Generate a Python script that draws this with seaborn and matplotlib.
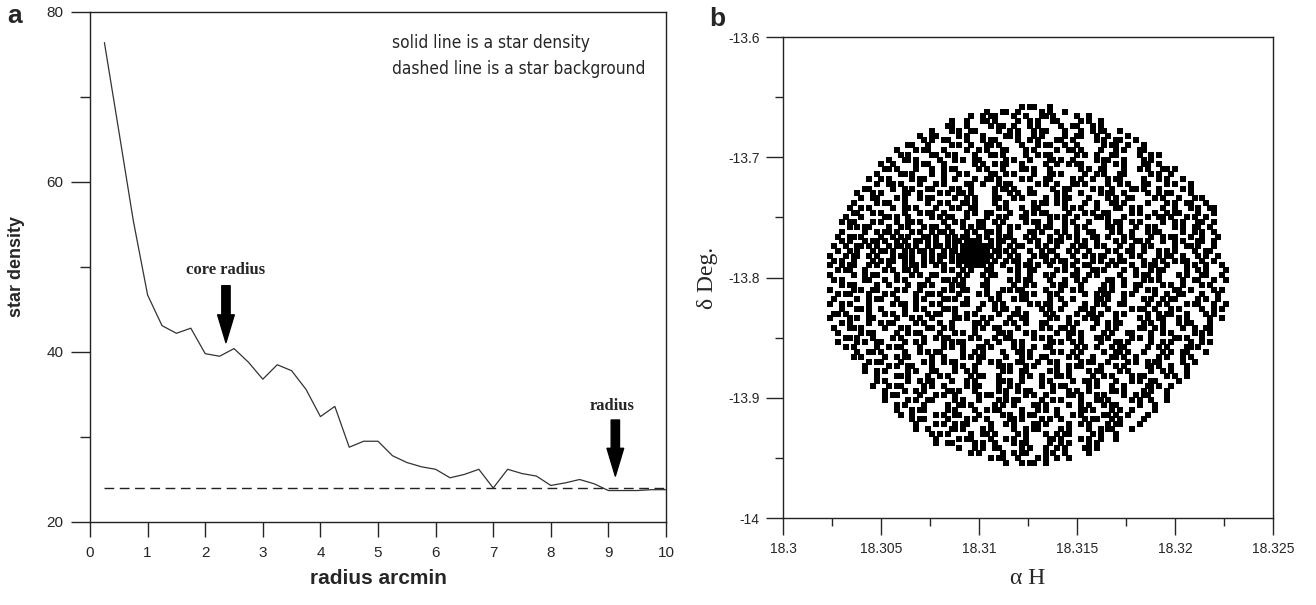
import numpy as np
import matplotlib
matplotlib.use("Agg")
import matplotlib.pyplot as plt
import seaborn as sns

# ---- panel a: radial density profile ----
radius = [0.25, 0.5, 0.75, 1.0, 1.25, 1.5, 1.75, 2.0, 2.25, 2.5,
          2.75, 3.0, 3.25, 3.5, 3.75, 4.0, 4.25, 4.5, 4.75, 5.0,
          5.25, 5.5, 5.75, 6.0, 6.25, 6.5, 6.75, 7.0, 7.25, 7.5,
          7.75, 8.0, 8.25, 8.5, 8.75, 9.0, 9.25, 9.5, 9.75, 10.0]
density = [76.4, 66.0, 55.5, 46.7, 43.1, 42.2, 42.8, 39.8, 39.5, 40.4,
           38.8, 36.8, 38.5, 37.8, 35.6, 32.4, 33.6, 28.8, 29.5, 29.5,
           27.8, 27.0, 26.5, 26.2, 25.2, 25.6, 26.2, 24.0, 26.2, 25.7,
           25.4, 24.3, 24.6, 25.0, 24.5, 23.7, 23.7, 23.7, 23.8, 23.8]
background_x = [0.25, 10.0]
background_y = [24.0, 24.0]
core_radius = 2.36
limit_radius = 9.12

# ---- panel b: star field, read off the chart as a raster ----
# each '#' is a star; column -> RA step, row -> Dec step
RA0, DRA = 18.3022, 0.0002
DEC0, DDEC = -13.658, -0.004
row_start = [48, 41, 36, 32, 29, 26, 24, 22, 20, 18, 17, 15, 14, 13, 12, 11, 10, 9, 8, 7,
             6, 6, 5, 4, 4, 3, 3, 3, 2, 2, 2, 1, 1, 1,
             1, 1, 1, 1, 1, 1, 1, 1, 1, 1, 1,
             2, 2, 2, 3, 3, 4, 5, 7, 9, 9, 10, 11, 12, 12, 13, 14, 15, 16, 17, 19,
             20, 22, 23, 25, 27, 28, 32, 36, 40, 46]
row_cells = [
    "..#.##...#..",
    "#...##..#.....#.#...#",
    ".#..#.##....#..#...##.#.....#..#",
    "#...#...##.#.....#..#.#...##.....#.#..#",
    "..##...#.....#.##..#...#.#.....#..##...#.#....",
    ".#....#.#..##.....#..#.#...#.##....#...#..#.##...#",
    "#..##.....#.#...#.....##.#...#.#.....#..##...#..#....#.",
    "...#.#..##....#...#.##.....#..#.#....##..#.....#.#..##...#.",
    ".##...#.....#.#..#...##.#.....#...#.##...#..#......#.##..#...#",
    "#....#.##...#.....#..#.#...##....#.#.....#..##.#....#...#.#...##.",
    "..#.#.....##..#.#....#...##.#.....#..#.##......#.#..#...##.....#..#.#",
    ".#...##.#.....#...#.#..##......#.#...#....##.#..#.....#.##...#....#.#...",
    "#..#.....#.##...#.......#.#..#.##...#.....#..#..#.##.....#..#.#....##..#...",
    "..##.#....#...#..#.##.....#.#...#....##.#...#.......#.#..##....#...#.#...##.#.",
    ".#.....##.#....#..#...#.#.....##..#.#....#...##.#.....#..#.#...##......#.#..#...",
    "#..#.#.....#.##....#..#....#..##.#.....#.#...##.....#.#..#...#.##.....#...#.#...#..",
    "...#..##.#....#...#.#.....##..#...#.##......#.#..#...##.#.....#..#.#...##....#.#...#",
    ".##.....#..#.#...##....#.#..#.....#.##.#...#.....#..##.....#.#..#....##.#...#.....#.#",
    "#...#.#.....##..#....#.#..##.#.....#...#.#..##.....#.#...#....#.##..#.....#..#.##....#..",
    "..#..##....#.#...#.##.....#..#.#....##...#.#.....#..#.##....#....#.#..##.....#.#...#...#.#",
    ".#.....#.##...#.....#..#.#...##.#....#..#......#.##..#.#....#..#...##.#.....#....#.#..##...#",
    "#..#.#.....#..##.#....#...#.#..##.....#.#...#..##......#.#.#...#....##..#.#.....#..#...#.#..##",
    "..##...#.#.....#...#.##..#.....#.#..##....#...#.#.##.....#...#.#..##.....#.#...#..#.##....#...#",
    ".#...#.....##.#..#.....#.#.##...#....#..#.#...##.....#.#.#..#....##.#...#.....#..##.#...#.#..#..",
    "#.##....#.#...#..##.#.....#..#.#...##..#.#.....#.##..#...#.#...#....#.##..#.#.....#..#.#...##..#",
    "...#.#.##....#..#.#...#.##..#...#.#.##...#..#.#....#.##...#..#.#.....##.#...#..#.#....#.#..##..#.",
    ".#.....#..#.##.#...#.#..#.##.#...#.#..##.#..#....##.#...#.#..#..##....#.#..#...#.##.....#..#.#..#.",
    "#..##.#....#..#.#.#...##.#..#.#.##..#.#..#.##...#.#...#..#.#.#...##..#...#.#....#..#.##...#..#...#",
    "..#.#...#.##.#..#.#..##.#.#..#.##.#" + "###" + "..#.##..#...#.#..#.##...#.#..#....#.#..##.#...#..#.#...##..#..",
    "#..#..##.#.#..#.##.#.#..#.##.#.#.#" + "#####" + "##.#..#.##...#.#..#...#.##..#.#...#..#..#.#.....#..##.#...#.",
    ".#..#.#...#.##.#..#.#.##.#..#.##.#" + "#####" + "#.##.#.#...#..#.##...#.#..#....#.#..##..#...#.#.#....#..##..",
    "#...#.##..#.#...#.##.#..#.#.##.#.##" + "#####" + "##.#..#.#...#.##..#...#..#.#.##...#..#.#....#.##..#...#.#..#.",
    ".#.#..#....#.#.##..#.#..#.#.#..#.##" + "#####" + "#.#..#.##..#...#.#.##..#...#.#..#.##....#..#.#..#.##...#..#..",
    "#..#.##...#.#..#...#.##.#..#.#...#.#" + "###" + "#.#..#...#.##.#..#...#.#..##....#.#...#..#.##..#....#.#..#...#",
    "..#.##...#....#.#..##.#......#.#..#.#...##....#.#..##.....#.#..#...##.#....#..#...#.##.....#..#.#....#..",
    "#.....#..#.##....#...#.#..##....." + "#.#...#.##" + ".....#..#...#.#....##..#.#.....#...#.##..#....#.#...##...#.",
    ".#.#.....##...#..#.#.....#...##.#" + ".#.....#" + ".....#.#.##....#...#..#.#.....##..#....#.#.#.....#..##...#..#",
    "...#.##.....#..#....#..##.#....#." + "##....##" + "......#..#.#....#.##...#.....#.#..#..##.....#.#..#....#.#....",
    "#.....#.#..##....#.#...#.....#.#..##....#...#.#.##.....#...#..#.#....##.#.....#..#.#....##..#.....#.#.",
    "..#.##....#...#.#.....#..##.#....#....#.#..#.....##.#...#.#......#..#.##...#.#.....#..#..##....#...#..",
    ".#.....#..#.##...#....#.#....##.#..#.....#.#...#.##.....#..#..#.....##.#...#....#.#..#.##.....#.#..#..",
    "#..#.#....#.....#.##..#...#.#.....##...#..#.#......#.#.##...#....#..#.#...##.....#..#.#....#.##...#..#",
    "...#...##.#..#.....#..#.#....##.#.....#...#.##..#.....#.#..#....##.#...#.....#.##..#...#.#.....#..#.#.",
    ".##.#.....#...#.#..#.....#.##...#..#.#.....#...##.#....#.#.....#..##.#...#.#.....#..#.##...#....#.#...",
    "#....#.#..##.....#...#.#..#.....##.#...#.#....#..##.....#.#..#...#.##....#.....#.#..##...#.#.....#..#",
    "..#.#....#..#.##.....#.#...#..#.....##.#....#.#..#...##.....#.#....#..#.##.....#.#..#...#.##....#.",
    "#...##.#.....#...#.#....##..#.#.....#.#..##....#.....#.#..##.#....#...#.#.....##..#.#....#..#..##..",
    ".#.....#.##.....#..#.##....#...#.#..#.....##.#...#.#.....#..##.#.....#.#...##....#..#.#.....#.#.#",
    "..##.#...#....#.#.....#..#.##.....#.#...#..##.....#.#.#....#..#...##.#.....#.#..#.....##.#...#..",
    "#....#.#..##.....#..#.#....#.#.##.....#..#...#.#......##.#..#.#....#...##.#.....#..#.#....#..#.#",
    ".#.#.....#..#.##....#.....#.#..#...##.#.....#.#..#..##......#.#..#...#.##.....#..#.#....##.#...",
    "...#..##.#.....#...#.#.##.....#..#.#....#...##.#.....#.#..#.#.....#..##.#...#....#.#..##....#.",
    "#.#.....#..#.##.....#..#....#.#.##.....#...#.#..##.....#.#...#....##.#..#.....#.#...#.#.",
    "..#.##....#.....#.#..#.##.....#..#.#....##...#..#.#.....#.##...#....#.#..#.##.....#..#",
    ".#.....#.#..##....#.....#.#..#.....##.#...#.#.....#..#.##....#...#.#.....##.#..#...#",
    "#..#.#.....#.#...##....#..#.#......#.#..##.....#.#..#....#.##....#.#.....#..#.#...#.",
    "..#....##.#....#..#.#.....#.##...#.....#.#..#...##.#.....#..#.#....#.##.....#.#..#",
    ".#.#.....#..#.##....#...#.#.....##.#..#....#.#.....#..##.#....#...#.#..##.....#.",
    "#...#.##.....#.#..#.....#.##....#..#.#.....#..#.##.....#.#...#..#.....##.#..#.",
    "..#....#..#.#.....##.#...#.....#.#..#.##.....#...#.#..#.....##.#....#.#...#..",
    ".#.##.....#...#.#..#.....#.##...#....#.#..#.....##.#...#.#....#..#.##....#",
    "#.....#.#..##.....#.#...#....#.#.##.....#..#.#....#...##.#.....#.#..#...#",
    "..#.#....#.....#..##.#.....#.#..#....##.#.....#..#.#...#.##.....#...#.",
    ".#...#.##.....#.#....#..#.##.....#...#.#..#.....##.#....#.#..#.....#",
    "#..#.....#.#..##....#.....#.#..#.##.....#...#.#.....##.#..#....#.",
    "..#.##.....#....#.#..#.....##.#....#.#..#.....#.##...#.#.....#.",
    ".#....#.#..#.##.....#...#.#....##.#.....#..#.#....#.##....#.",
    "#..#.....##.#....#.#.....#..#.##.....#.#....#..#.##....#",
    "..#.#.#.....#..##.#.....#.#....#..#.##.....#.#...#..",
    ".#.....#.##....#...#.#..#.....##.#....#.#..#...#",
    "#..##.....#.#..#....#.##.....#..#.#....#.#..",
    "..#...#.#..##.....#.#...#..#.#....##.#",
    ".#.#.....#..#.##....#.#..#.....#",
    "..#.##...#....#.#..#..#.",
    "#...#.##..#.",
]

star_ra, star_dec = [], []
for r, (start, cells) in enumerate(zip(row_start, row_cells)):
    for i, ch in enumerate(cells):
        if ch == "#":
            star_ra.append(RA0 + (start + i) * DRA)
            star_dec.append(DEC0 + r * DDEC)

ra_ticks = [18.3, 18.305, 18.31, 18.315, 18.32, 18.325]
ra_labels = ["18.3", "18.305", "18.31", "18.315", "18.32", "18.325"]
dec_ticks = [-14.0, -13.9, -13.8, -13.7, -13.6]
dec_labels = ["-14", "-13.9", "-13.8", "-13.7", "-13.6"]

sns.set_theme(style="ticks")
plt.rcParams["font.family"] = ["Liberation Sans", "DejaVu Sans"]
plt.rcParams["axes.edgecolor"] = "#222222"
plt.rcParams["axes.linewidth"] = 1.0

fig = plt.figure(figsize=(13.16, 6.05), dpi=100)
ax1 = fig.add_axes([0.0684, 0.1372, 0.4377, 0.843])
ax2 = fig.add_axes([0.595, 0.1438, 0.3723, 0.795])

# panel a
sns.lineplot(x=radius, y=density, ax=ax1, color="#333333", linewidth=0.9)
sns.lineplot(x=background_x, y=background_y, ax=ax1, color="#222222",
             linewidth=1.0, linestyle=(0, (7, 4)))
ax1.set_xlim(0, 10)
ax1.set_ylim(20, 80)
ax1.set_xticks(range(0, 11))
ax1.set_yticks([20, 40, 60, 80])
ax1.set_yticks([30, 50, 70], minor=True)
ax1.tick_params(axis="y", which="major", length=14, width=1, labelsize=11, pad=5)
ax1.tick_params(axis="y", which="minor", length=7, width=1)
ax1.tick_params(axis="x", which="major", length=11, width=1, labelsize=11, pad=6)
ax1.set_xlabel("radius arcmin", fontsize=15, fontweight="bold")
ax1.set_ylabel("star density", fontsize=13, fontweight="bold")
ax1.xaxis.set_label_coords(0.5, -0.11)
ax1.xaxis.label.set_va("center")
ax1.yaxis.set_label_coords(-0.127, 0.5)
ax1.yaxis.label.set_va("center")

note_font = dict(fontsize=12.4, family=["DejaVu Sans"], fontstretch="condensed",
                 va="center")
ax1.text(5.25, 76.3, "solid line is a star density", **note_font)
ax1.text(5.25, 73.3, "dashed line is a star background", **note_font)

arrow = dict(arrowstyle="simple,head_length=1.0,head_width=0.6,tail_width=0.3",
             mutation_scale=20, color="black", shrinkA=0, shrinkB=0)
ax1.text(core_radius, 49.7, "core radius", fontsize=12, fontweight="bold",
         family="Liberation Serif", ha="center", va="center")
ax1.annotate("", xy=(core_radius, 41.1), xytext=(core_radius, 47.8), arrowprops=arrow)
ax1.text(limit_radius - 0.05, 33.6, "radius", fontsize=12, fontweight="bold",
         family="Liberation Serif", ha="center", va="center")
ax1.annotate("", xy=(limit_radius, 25.4), xytext=(limit_radius, 32.0), arrowprops=arrow)

# panel b
sns.scatterplot(x=star_ra, y=star_dec, ax=ax2, marker="s", s=13,
                color="black", linewidth=0, legend=False)
ax2.set_xlim(18.3, 18.325)
ax2.set_ylim(-14.0, -13.6)
ax2.set_xticks(ra_ticks)
ax2.set_xticklabels(ra_labels)
ax2.set_xticks([18.3025, 18.3075, 18.3125, 18.3175, 18.3225], minor=True)
ax2.set_yticks(dec_ticks)
ax2.set_yticklabels(dec_labels)
ax2.set_yticks([-13.95, -13.85, -13.75, -13.65], minor=True)
ax2.tick_params(axis="both", which="major", length=12, width=1, labelsize=10, pad=5)
ax2.tick_params(axis="both", which="minor", length=6, width=1)
ax2.set_xlabel("\u03b1 H", fontsize=17, family="Liberation Serif")
ax2.set_ylabel("\u03b4 Deg.", fontsize=17, family="Liberation Serif")
ax2.xaxis.set_label_coords(0.5, -0.125)
ax2.xaxis.label.set_va("center")
ax2.yaxis.set_label_coords(-0.155, 0.5)
ax2.yaxis.label.set_va("center")

fig.text(15 / 1316, 1 - 16 / 605, "a", fontsize=19, fontweight="bold",
         ha="center", va="center")
fig.text(717 / 1316, 1 - 19 / 605, "b", fontsize=19, fontweight="bold",
         ha="center", va="center")

fig.savefig("out.png", dpi=100)
